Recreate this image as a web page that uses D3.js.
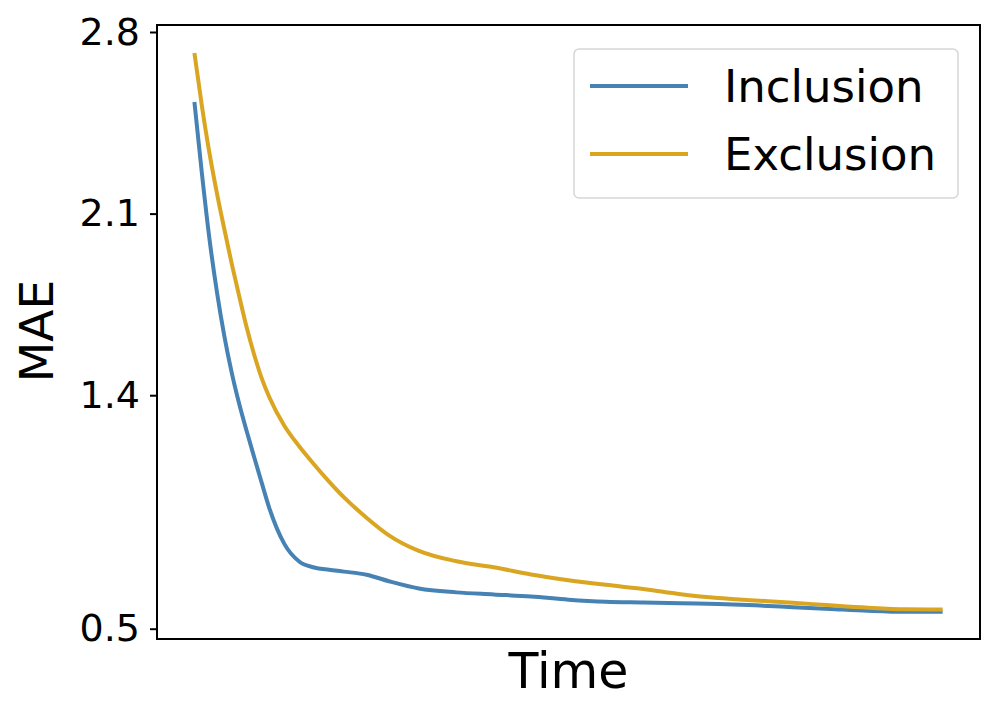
<!DOCTYPE html>
<html>
<head>
<meta charset="utf-8">
<script src="https://cdn.jsdelivr.net/npm/d3@7"></script>
<style>
  body { margin: 0; background: #fff; }
  svg { display: block; font-family: "DejaVu Sans", sans-serif; }
</style>
</head>
<body>
<svg id="chart" width="998" height="715"></svg>
<script>
// time steps (x) shared by both series
const steps = [0, 1, 2, 3, 4, 5, 6, 7, 8, 9, 10, 12, 14, 16, 18, 20, 23, 26, 30, 35,
               40, 45, 50, 55, 60, 65, 70, 75, 80, 85, 90, 95, 100];

// MAE
const inclusion = [2.530, 2.255, 2.005, 1.800, 1.628, 1.485, 1.365, 1.260, 1.160, 1.062,
                   0.966, 0.828, 0.759, 0.736, 0.727, 0.720, 0.708, 0.683, 0.655, 0.640,
                   0.632, 0.624, 0.612, 0.604, 0.601, 0.598, 0.595, 0.590, 0.583, 0.576,
                   0.569, 0.565, 0.565];
const exclusion = [2.719, 2.515, 2.335, 2.180, 2.040, 1.905, 1.780, 1.660, 1.555, 1.465,
                   1.393, 1.283, 1.203, 1.133, 1.067, 1.006, 0.928, 0.860, 0.800, 0.760,
                   0.737, 0.709, 0.687, 0.669, 0.653, 0.633, 0.618, 0.609, 0.600, 0.590,
                   0.581, 0.575, 0.574];

const yTicks = [0.5, 1.4, 2.1, 2.8];

const series = [
    { name: "Inclusion", values: inclusion, color: "#4682b4" },
    { name: "Exclusion", values: exclusion, color: "#daa520" }
];

const svg = d3.select("#chart");

// 축 영역
const plotLeft = 157, plotRight = 980, plotTop = 25, plotBottom = 639;

const pad = (d3.max(steps) - d3.min(steps)) * 0.05;
const x = d3.scaleLinear()
    .domain([d3.min(steps) - pad, d3.max(steps) + pad])
    .range([plotLeft, plotRight]);

const y = d3.scaleLinear()
    .domain([0.4603, 2.827])
    .range([plotBottom, plotTop]);

// y 축 눈금
const yAxis = svg.append("g")
    .attr("transform", `translate(${plotLeft},0)`)
    .call(d3.axisLeft(y).tickValues(yTicks).tickFormat(d3.format(".1f")).tickSize(7).tickPadding(10));

yAxis.select(".domain").remove();
yAxis.selectAll(".tick line").attr("stroke", "#000").attr("stroke-width", 2);
yAxis.selectAll(".tick text")
    .style("font-size", "38px")
    .style("font-family", "DejaVu Sans, sans-serif")
    .attr("fill", "#000");

// 선
const line = d3.line()
    .x((d, i) => x(steps[i]))
    .y(d => y(d))
    .curve(d3.curveMonotoneX);

const plot = svg.append("g");
plot.selectAll("path.series")
    .data(series)
    .enter()
    .append("path")
    .attr("class", "series")
    .attr("fill", "none")
    .attr("stroke", d => d.color)
    .attr("stroke-width", 4)
    .attr("d", d => line(d.values));

// 테두리
svg.append("rect")
    .attr("x", plotLeft)
    .attr("y", plotTop)
    .attr("width", plotRight - plotLeft)
    .attr("height", plotBottom - plotTop)
    .attr("fill", "none")
    .attr("stroke", "#000")
    .attr("stroke-width", 2);

// 축 제목
svg.append("text")
    .attr("x", (plotLeft + plotRight) / 2)
    .attr("y", 688)
    .attr("text-anchor", "middle")
    .style("font-size", "49px")
    .text("Time");

svg.append("text")
    .attr("transform", "translate(53,331) rotate(-90)")
    .attr("text-anchor", "middle")
    .style("font-size", "47px")
    .text("MAE");

// 범례
const legend = svg.append("g");
legend.append("rect")
    .attr("x", 574)
    .attr("y", 49)
    .attr("width", 384)
    .attr("height", 149)
    .attr("rx", 5)
    .attr("fill", "#fff")
    .attr("fill-opacity", 0.8)
    .attr("stroke", "#d6d6d6")
    .attr("stroke-width", 1.5);

series.forEach((s, i) => {
    const ly = 86 + i * 68;
    legend.append("line")
        .attr("x1", 590)
        .attr("x2", 688)
        .attr("y1", ly)
        .attr("y2", ly)
        .attr("stroke", s.color)
        .attr("stroke-width", 4);
    legend.append("text")
        .attr("x", 724)
        .attr("y", ly + 16)
        .style("font-size", "45px")
        .text(s.name);
});
</script>
</body>
</html>
